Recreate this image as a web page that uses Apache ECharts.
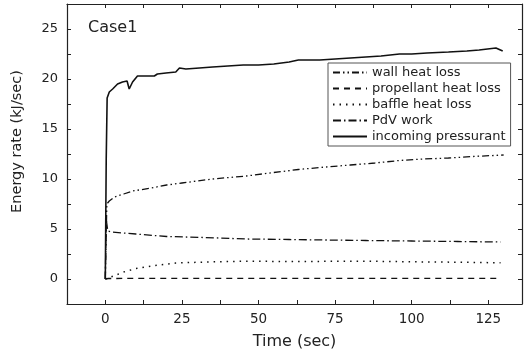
<!DOCTYPE html>
<html>
<head>
<meta charset="utf-8">
<script src="https://cdn.jsdelivr.net/npm/echarts@6/dist/echarts.min.js"></script>
<style>
  html, body { margin: 0; padding: 0; background: #fff; }
  #chart { width: 525px; height: 356px; }
</style>
</head>
<body>
<div id="chart"></div>
<script>
// values (time in sec, energy rate in kJ/sec)
const wallT = [0, 0.5, 1.3, 3, 6, 9, 15, 20, 25, 35, 46, 55, 63, 72, 80, 88, 96, 104, 112, 120, 130];
const wallV = [0, 7.5, 7.8, 8.2, 8.5, 8.8, 9.1, 9.4, 9.6, 10.0, 10.3, 10.65, 10.95, 11.2, 11.4, 11.6, 11.85, 12.0, 12.1, 12.25, 12.4];

const propT = [0, 1, 30, 60, 90, 129];
const propV = [0, 0.05, 0.07, 0.07, 0.07, 0.07];

const baffleT = [0, 1, 3.5, 6, 10, 16, 23, 33, 46, 60, 85, 100, 115, 129];
const baffleV = [0, 0.1, 0.4, 0.7, 1.05, 1.35, 1.6, 1.7, 1.78, 1.75, 1.78, 1.72, 1.68, 1.62];

const pdvT = [0, 0.3, 0.8, 2, 6, 10, 20, 32, 46, 60, 72, 85, 100, 115, 129];
const pdvV = [0, 6, 4.8, 4.7, 4.6, 4.5, 4.25, 4.15, 4.0, 3.95, 3.9, 3.85, 3.8, 3.75, 3.7];

const inT = [0, 0.3, 0.6, 1.3, 2.4, 4, 5.6, 7.1, 7.8, 8.9, 10.5, 12.2, 16, 17, 19.8, 23, 24.2, 26.3, 30.7, 35, 40, 45, 50, 55, 60, 63, 70, 75, 80, 85, 90, 96, 100, 105, 112, 118, 122, 127.5, 129.7];
const inV = [0, 12, 18.1, 18.7, 19.0, 19.5, 19.7, 19.8, 19.0, 19.7, 20.3, 20.3, 20.3, 20.5, 20.6, 20.7, 21.1, 21.0, 21.1, 21.2, 21.3, 21.4, 21.4, 21.5, 21.7, 21.9, 21.9, 22.0, 22.1, 22.2, 22.3, 22.5, 22.5, 22.6, 22.7, 22.8, 22.9, 23.1, 22.8];

const names = ['wall heat loss', 'propellant heat loss', 'baffle heat loss', 'PdV work', 'incoming pressurant'];

function pairs(t, v) {
    return t.map((x, i) => [x, v[i]]);
}

const font = 'DejaVu Sans';
const my_chart = echarts.init(document.getElementById('chart'));

const xBase = {
    type: 'value', min: -12.5, max: 136, interval: 12.5,
    axisLine: { onZero: false, lineStyle: { color: '#222', width: 1.2 } },
    axisTick: { inside: true, length: 4, lineStyle: { color: '#222' } },
    splitLine: { show: false }
};
const yBase = {
    type: 'value', min: -2.5, max: 27.5, interval: 2.5,
    axisLine: { onZero: false, lineStyle: { color: '#222', width: 1.2 } },
    axisTick: { inside: true, length: 4, lineStyle: { color: '#222' } },
    splitLine: { show: false }
};

function lineSeries(name, t, v, type, width) {
    return {
        name: name, type: 'line', data: pairs(t, v),
        symbol: 'none', animation: false,
        lineStyle: { color: '#111', width: width, type: type },
        itemStyle: { color: '#111' }
    };
}

my_chart.setOption({
    textStyle: { fontFamily: font },
    grid: { left: 67, right: 2, top: 4, bottom: 52 },
    xAxis: [
        Object.assign({}, xBase, {
            position: 'bottom',
            name: 'Time (sec)', nameLocation: 'middle', nameGap: 30,
            nameTextStyle: { fontSize: 16, color: '#222', fontFamily: font },
            axisLabel: {
                fontSize: 13.5, color: '#222', margin: 8,
                formatter: v => (v % 25 === 0 ? String(v) : '')
            }
        }),
        Object.assign({}, xBase, { position: 'top', axisLabel: { show: false } })
    ],
    yAxis: [
        Object.assign({}, yBase, {
            position: 'left',
            name: 'Energy rate (kJ/sec)', nameLocation: 'middle', nameGap: 42,
            nameTextStyle: { fontSize: 14.5, color: '#222', fontFamily: font, padding: [0, 0, 0, 25] },
            axisLabel: {
                fontSize: 13, color: '#222', margin: 9,
                formatter: v => (v % 5 === 0 ? String(v) : '')
            }
        }),
        Object.assign({}, yBase, { position: 'right', axisLabel: { show: false } })
    ],
    legend: {
        data: names, orient: 'vertical',
        left: 328, top: 63,
        padding: [3, 5, 3, 4],
        itemWidth: 34, itemHeight: 10, itemGap: 3,
        borderColor: '#555', borderWidth: 1, backgroundColor: '#fff',
        itemStyle: { opacity: 0 },
        textStyle: { fontSize: 13, color: '#222', fontFamily: font }
    },
    graphic: [{
        type: 'text', left: 88, top: 20,
        style: { text: 'Case1', font: '16px "DejaVu Sans"', fill: '#222' }
    }],
    series: [
        lineSeries(names[0], wallT, wallV, [7, 3, 1.5, 3, 1.5, 3], 1.3),
        lineSeries(names[1], propT, propV, [6, 5], 1.3),
        lineSeries(names[2], baffleT, baffleV, [1.5, 5], 1.5),
        lineSeries(names[3], pdvT, pdvV, [8, 3, 1.5, 3], 1.3),
        lineSeries(names[4], inT, inV, 'solid', 1.6)
    ]
});
</script>
</body>
</html>
